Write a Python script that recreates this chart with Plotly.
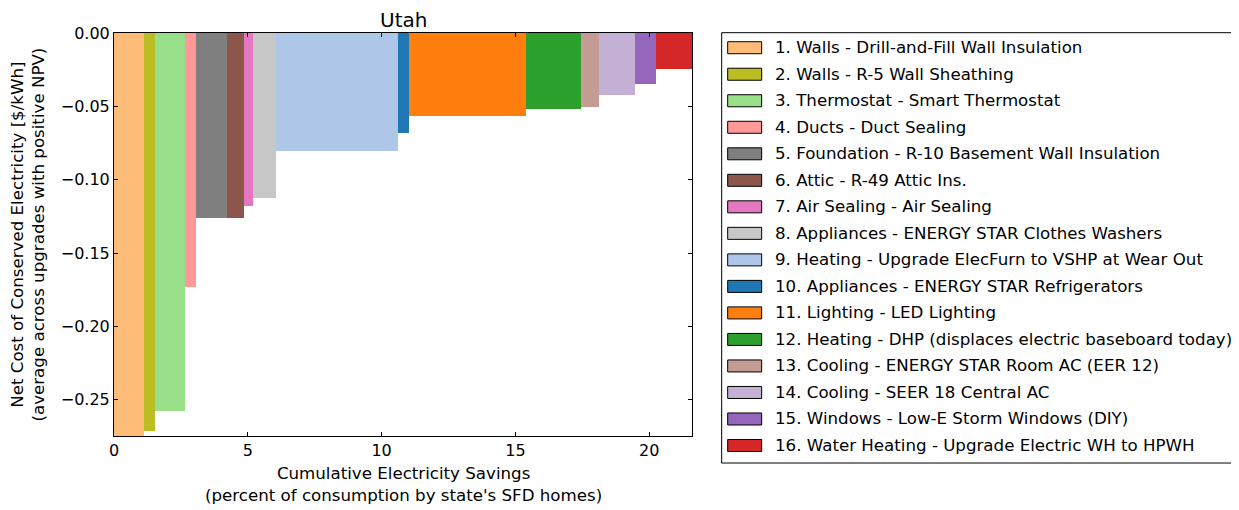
import plotly.graph_objects as go

# ---- data ----
labels = [
    "1. Walls - Drill-and-Fill Wall Insulation",
    "2. Walls - R-5 Wall Sheathing",
    "3. Thermostat - Smart Thermostat",
    "4. Ducts - Duct Sealing",
    "5. Foundation - R-10 Basement Wall Insulation",
    "6. Attic - R-49 Attic Ins.",
    "7. Air Sealing - Air Sealing",
    "8. Appliances - ENERGY STAR Clothes Washers",
    "9. Heating - Upgrade ElecFurn to VSHP at Wear Out",
    "10. Appliances - ENERGY STAR Refrigerators",
    "11. Lighting - LED Lighting",
    "12. Heating - DHP (displaces electric baseboard today)",
    "13. Cooling - ENERGY STAR Room AC (EER 12)",
    "14. Cooling - SEER 18 Central AC",
    "15. Windows - Low-E Storm Windows (DIY)",
    "16. Water Heating - Upgrade Electric WH to HPWH",
]
savings = [1.12, 0.41, 1.12, 0.41, 1.15, 0.66, 0.31, 0.86,
           4.58, 0.42, 4.35, 2.08, 0.67, 1.32, 0.79, 1.35]
cost = [-0.2747, -0.2713, -0.2574, -0.1728, -0.1262, -0.1262, -0.1180, -0.1123,
        -0.0807, -0.0685, -0.0569, -0.0519, -0.0505, -0.0423, -0.0346, -0.0246]
colors = ["#ffbb78", "#bcbd22", "#98df8a", "#ff9896", "#7f7f7f", "#8c564b",
          "#e377c2", "#c7c7c7", "#aec7e8", "#1f77b4", "#ff7f0e", "#2ca02c",
          "#c49c94", "#c5b0d5", "#9467bd", "#d62728"]
title = "Utah"

# cumulative positions
lefts = []
acc = 0.0
for w in savings:
    lefts.append(acc)
    acc += w
centers = [l + w / 2 for l, w in zip(lefts, savings)]

FONT = "DejaVu Sans"
FS = 16.67
TFS = 16
TITLE_FS = 20
OFF = 8  # page body margin
W, H = 1239 - OFF, 510 - OFF
# plot area in window pixels
PL, PR, PT, PB = 114, 692.3, 33.3, 436.0

fig = go.Figure()
for i in range(len(labels)):
    fig.add_trace(go.Bar(
        x=[centers[i]], y=[cost[i]], width=[savings[i]], base=0,
        marker=dict(color=colors[i], line=dict(width=0)),
        name=labels[i], showlegend=False,
    ))

def px2paper_x(px):
    return (px - PL) / (PR - PL)

def px2paper_y(py):
    return (PB - py) / (PB - PT)

shapes = []
annotations = []
# legend frame
shapes.append(dict(type="rect", xref="paper", yref="paper",
                   x0=px2paper_x(722), x1=px2paper_x(1233),
                   y0=px2paper_y(463), y1=px2paper_y(33),
                   line=dict(color="black", width=1), fillcolor="white", layer="below"))
for i, lab in enumerate(labels):
    cy = 48 + i * 26.5
    shapes.append(dict(type="rect", xref="paper", yref="paper",
                       x0=px2paper_x(728), x1=px2paper_x(762),
                       y0=px2paper_y(cy + 6), y1=px2paper_y(cy - 6),
                       line=dict(color="black", width=1), fillcolor=colors[i]))
    annotations.append(dict(xref="paper", yref="paper", x=px2paper_x(774),
                            y=px2paper_y(cy), xanchor="left", yanchor="middle",
                            text=lab, showarrow=False, borderpad=0,
                            font=dict(family=FONT, size=FS, color="black")))

annotations.append(dict(xref="paper", yref="paper", x=px2paper_x(28), y=0.5,
                        textangle=-90, xanchor="center", yanchor="middle",
                        text="Net Cost of Conserved Electricity [$/kWh]<br>(average across upgrades with positive NPV)",
                        showarrow=False, font=dict(family=FONT, size=FS, color="black")))
annotations.append(dict(xref="paper", yref="paper", x=0.5, y=px2paper_y(484),
                        xanchor="center", yanchor="middle",
                        text="Cumulative Electricity Savings<br>(percent of consumption by state's SFD homes)",
                        showarrow=False, font=dict(family=FONT, size=FS, color="black")))
annotations.append(dict(xref="paper", yref="paper", x=0.5, y=px2paper_y(20),
                        xanchor="center", yanchor="middle", text=title,
                        showarrow=False, font=dict(family=FONT, size=TITLE_FS, color="black")))

fig.update_layout(
    width=W, height=H,
    margin=dict(l=PL - OFF, r=W - (PR - OFF), t=PT - OFF, b=H - (PB - OFF), pad=0),
    paper_bgcolor="white", plot_bgcolor="white",
    barmode="overlay", bargap=0,
    font=dict(family=FONT, size=FS, color="black"),
    shapes=shapes, annotations=annotations,
    showlegend=False,
)
fig.update_xaxes(range=[0, acc], dtick=5, tick0=0, ticks="inside", ticklen=4,
                 tickcolor="black", showline=True, linecolor="black", linewidth=1,
                 mirror="allticks", showgrid=False, zeroline=False,
                 tickfont=dict(family=FONT, size=TFS, color="black"))
fig.update_yaxes(range=[min(cost), 0], dtick=0.05, tick0=0, tickformat=".2f",
                 ticks="inside", ticklen=4, tickcolor="black", showline=True,
                 linecolor="black", linewidth=1, mirror="allticks", showgrid=False,
                 zeroline=False, tickfont=dict(family=FONT, size=TFS, color="black"))

fig.write_html("out.html")
